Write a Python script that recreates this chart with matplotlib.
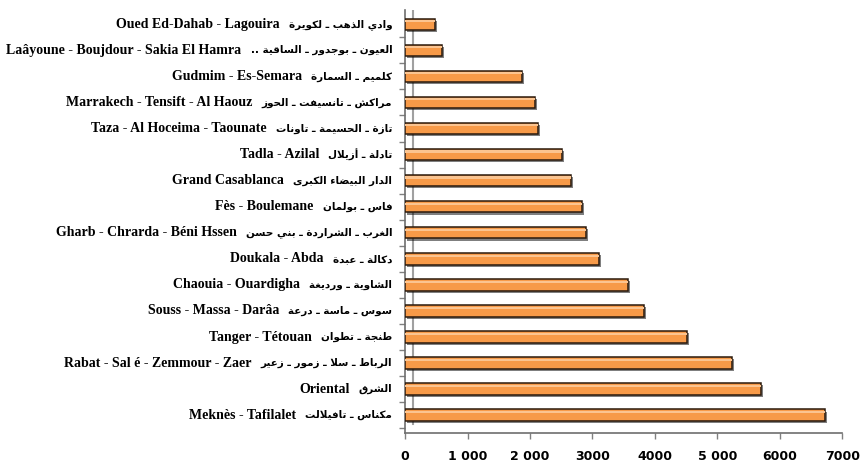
import matplotlib
matplotlib.use("Agg")
import matplotlib.pyplot as plt
import matplotlib.patheffects as pe
import matplotlib.transforms as mtransforms

# Régions, de bas en haut
regions_fr = [
    "Meknès - Tafilalet", "Oriental", "Rabat - Sal é - Zemmour - Zaer",
    "Tanger - Tétouan", "Souss - Massa - Darâa", "Chaouia - Ouardigha",
    "Doukala - Abda", "Gharb - Chrarda - Béni Hssen", "Fès - Boulemane",
    "Grand Casablanca", "Tadla - Azilal", "Taza - Al Hoceima - Taounate",
    "Marrakech - Tensift - Al Haouz", "Gudmim - Es-Semara",
    "Laâyoune - Boujdour - Sakia El Hamra", "Oued Ed-Dahab - Lagouira",
]
regions_ar = [
    "مكناس ـ تافيلالت", "الشرق", "الرباط ـ سلا ـ زمور ـ زعير",
    "طنجة ـ تطوان", "سوس ـ ماسة ـ درعة", "الشاوية ـ ورديغة",
    "دكالة ـ عبدة", "الغرب ـ الشراردة ـ بني حسن", "فاس ـ بولمان",
    "الدار البيضاء الكبرى", "تادلة ـ أزيلال", "تازة ـ الحسيمة ـ تاونات",
    "مراكش ـ تانسيفت ـ الحوز", "كلميم ـ السمارة",
    "العيون ـ بوجدور ـ الساقية ..", "وادي الذهب ـ لكويرة",
]
valeurs = [6730, 5700, 5240, 4520, 3830, 3570, 3105, 2900, 2835,
           2660, 2515, 2130, 2080, 1875, 590, 480]
xticks = [0, 1000, 2000, 3000, 4000, 5000, 6000, 7000]
xlabels = ["0", "1 000", "2 000", "3000", "4000", "5 000", "6000", "7000"]

# mise en forme minimale de l'arabe (matplotlib ne lie pas les lettres)
DUAL = {"ئ": 0xFE89, "ب": 0xFE8F, "ت": 0xFE95, "ث": 0xFE99, "ج": 0xFE9D,
        "ح": 0xFEA1, "خ": 0xFEA5, "س": 0xFEB1, "ش": 0xFEB5, "ص": 0xFEB9,
        "ض": 0xFEBD, "ط": 0xFEC1, "ظ": 0xFEC5, "ع": 0xFEC9, "غ": 0xFECD,
        "ف": 0xFED1, "ق": 0xFED5, "ك": 0xFED9, "ل": 0xFEDD, "م": 0xFEE1,
        "ن": 0xFEE5, "ه": 0xFEE9, "ي": 0xFEF1}
RIGHT = {"آ": 0xFE81, "أ": 0xFE83, "ؤ": 0xFE85, "إ": 0xFE87, "ا": 0xFE8D,
         "ة": 0xFE93, "د": 0xFEA9, "ذ": 0xFEAB, "ر": 0xFEAD, "ز": 0xFEAF,
         "و": 0xFEED, "ى": 0xFEEF}
LAM_ALEF = {"آ": 0xFEF5, "أ": 0xFEF7, "إ": 0xFEF9, "ا": 0xFEFB}


def joins(c):
    return c in DUAL or c in RIGHT or c == "ـ"


def forme_arabe(s):
    out = []
    i = 0
    while i < len(s):
        c = s[i]
        prev = s[i - 1] if i > 0 else ""
        avant = prev in DUAL or prev == "ـ"
        if c == "ل" and i + 1 < len(s) and s[i + 1] in LAM_ALEF:
            out.append(chr(LAM_ALEF[s[i + 1]] + (1 if avant else 0)))
            i += 2
            continue
        nxt = s[i + 1] if i + 1 < len(s) else ""
        if c in DUAL:
            apres = joins(nxt)
            k = 3 if (avant and apres) else 1 if avant else 2 if apres else 0
            out.append(chr(DUAL[c] + k))
        elif c in RIGHT:
            out.append(chr(RIGHT[c] + (1 if avant else 0)))
        else:
            out.append(c)
        i += 1
    return "".join(out)[::-1]


fig = plt.figure(figsize=(8.62, 4.63), dpi=100)
ax = fig.add_axes([0.470, 0.065, 0.507, 0.9135])

pos = list(range(len(valeurs)))
bars = ax.barh(pos, valeurs, height=0.44, color="#F79A48",
               edgecolor="#2b1a0c", linewidth=1.1, zorder=3)
for b in bars:
    b.set_path_effects([pe.SimplePatchShadow(offset=(1.5, -1.5),
                                             shadow_rgbFace="black", alpha=0.5),
                        pe.Normal()])
ax.barh([p + 0.12 for p in pos], valeurs, height=0.08, color="#FBC490",
        linewidth=0, zorder=4)

ax.set_xlim(0, 7000)
ax.set_ylim(-0.68, 15.55)
ax.set_xticks(xticks)
ax.set_xticklabels(xlabels, fontsize=9, fontweight="bold",
                   family="DejaVu Sans")
ax.set_yticks([p + 0.5 for p in pos[:-1]] + [-0.5])
ax.set_yticklabels([])
ax.tick_params(axis="x", length=4, width=1, color="#808080", pad=8)
ax.tick_params(axis="y", length=4, width=1, color="#808080")
for s in ["top", "right"]:
    ax.spines[s].set_visible(False)
for s in ["left", "bottom"]:
    ax.spines[s].set_color("#6e6e6e")
    ax.spines[s].set_linewidth(1.2)
# paroi du fond (effet 3D)
ax.axvline(130, ymin=0.02, ymax=1.0, color="#a0a0a0", lw=1.5, zorder=1)

blend = mtransforms.blended_transform_factory(ax.transAxes, ax.transData)
tr_ar = mtransforms.offset_copy(blend, fig=fig, x=-13, y=0, units="dots")
ar_texts = []
for p, a in zip(pos, regions_ar):
    t = ax.text(0, p, forme_arabe(a), transform=tr_ar, ha="right",
                va="center", fontsize=7.5, fontweight="bold",
                family=["DejaVu Sans"])
    ar_texts.append(t)

fig.canvas.draw()
r = fig.canvas.get_renderer()
for p, f, t in zip(pos, regions_fr, ar_texts):
    w = t.get_window_extent(r).width
    tr_fr = mtransforms.offset_copy(blend, fig=fig, x=-13 - w - 9, y=0,
                                    units="dots")
    ax.text(0, p, f, transform=tr_fr, ha="right", va="center",
            fontsize=10, fontweight="bold", family="Liberation Serif")

fig.savefig("out.png", dpi=100)
